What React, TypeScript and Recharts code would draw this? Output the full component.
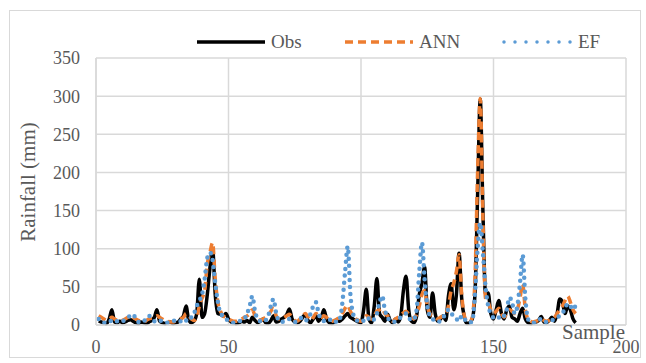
import { CartesianGrid, Legend, Line, LineChart, XAxis, YAxis } from "recharts";

const xTicks = [0, 50, 100, 150, 200];
const yTicks = [0, 50, 100, 150, 200, 250, 300, 350];

// observed rainfall, samples 1..181
const obs = [
  5, 4, 3, 2, 8, 20, 4, 3, 5, 3,
  4, 6, 7, 5, 3, 2, 4, 3, 2, 4,
  6, 10, 20, 5, 3, 2, 3, 4, 2, 3,
  4, 8, 12, 25, 6, 3, 5, 15, 60, 10,
  15, 40, 75, 100, 40, 15, 14, 12, 15, 8,
  4, 3, 2, 3, 5, 4, 6, 3, 10, 6,
  3, 5, 8, 3, 2, 6, 12, 4, 5, 8,
  10, 14, 21, 8, 4, 3, 5, 10, 14, 6,
  3, 8, 12, 5, 10, 20, 8, 3, 2, 4,
  6, 5, 8, 12, 15, 10, 8, 6, 4, 3,
  20, 47, 8, 3, 25, 61, 15, 10, 5, 14,
  6, 3, 8, 4, 12, 45, 64, 20, 5, 3,
  12, 40, 55, 76, 20, 10, 42, 15, 5, 8,
  12, 6, 38, 54, 20, 40, 94, 35, 10, 2,
  3, 8, 40, 170, 296, 150, 40, 42, 15, 8,
  20, 32, 15, 8, 20, 25, 10, 8, 5, 15,
  22, 8, 3, 2, 3, 4, 6, 11, 4, 3,
  6, 10, 5, 15, 34, 30, 15, 25, 20, 8,
  3,
];

const ann = [
  12, 10, 8, 6, 8, 10, 8, 6, 5, 6,
  8, 10, 12, 10, 8, 6, 5, 4, 6, 8,
  9, 10, 12, 10, 8, 6, 5, 4, 4, 5,
  6, 8, 10, 15, 12, 8, 6, 10, 25, 35,
  45, 80, 95, 108, 60, 30, 18, 12, 10, 8,
  6, 5, 5, 6, 8, 10, 12, 15, 20, 12,
  8, 6, 8, 10, 12, 18, 22, 12, 8, 8,
  10, 12, 14, 10, 6, 5, 8, 12, 15, 10,
  6, 10, 15, 12, 10, 12, 10, 6, 5, 6,
  8, 10, 15, 22, 26, 18, 12, 8, 6, 5,
  8, 12, 10, 8, 12, 18, 20, 22, 15, 12,
  8, 5, 8, 10, 12, 16, 18, 14, 10, 8,
  14, 25, 40, 45, 25, 15, 12, 10, 8, 10,
  12, 15, 25, 45, 55, 70, 92, 40, 12, 5,
  4, 10, 60, 200, 297, 140, 35, 30, 20, 15,
  18, 22, 15, 10, 15, 20, 18, 15, 20, 35,
  54, 20, 8, 5, 4, 5, 6, 8, 6, 5,
  6, 8, 10, 15, 20, 25, 32, 38, 30, 20,
  15,
];

const ef = [
  8, 5, 3, 5, 6, 4, 3, 5, 6, 5,
  8, 10, 12, 14, 8, 4, 3, 5, 8, 12,
  8, 5, 4, 6, 5, 3, 3, 4, 5, 6,
  4, 5, 8, 6, 5, 10, 15, 25, 32, 40,
  60, 88, 95, 85, 55, 30, 15, 12, 8, 6,
  4, 3, 4, 5, 6, 8, 15, 25, 38, 18,
  8, 5, 4, 6, 12, 25, 34, 15, 6, 4,
  5, 6, 8, 6, 4, 5, 8, 10, 6, 8,
  15, 25, 30, 15, 8, 5, 4, 6, 8, 5,
  4, 8, 30, 70, 103, 40, 15, 8, 5, 4,
  6, 10, 8, 5, 8, 15, 30, 38, 20, 10,
  6, 4, 5, 8, 10, 12, 15, 10, 6, 8,
  20, 70, 108, 60, 25, 12, 8, 5, 4, 6,
  10, 15, 20, 15, 12, 8, 5, 12, 8, 4,
  3, 6, 40, 100, 134, 95, 50, 25, 15, 10,
  12, 10, 8, 12, 20, 36, 30, 15, 25, 55,
  92, 35, 8, 4, 3, 4, 6, 8, 5, 4,
  5, 6, 8, 10, 12, 15, 22, 28, 25, 20,
  26,
];

const data = obs.map((v, i) => ({ sample: i + 1, obs: v, ann: ann[i], ef: ef[i] }));

const font = "'Liberation Serif', 'Times New Roman', serif";
const grey = "#595959";

function LegendBox() {
  const items = [
    { name: "Obs", x: 195, stroke: "#000000", dash: undefined, cap: "butt" },
    { name: "ANN", x: 343, stroke: "#ed7d31", dash: "8 5", cap: "butt" },
    { name: "EF", x: 502, stroke: "#5b9bd5", dash: "0 11", cap: "round" },
  ];
  return (
    <svg width={646} height={30} style={{ display: "block" }}>
      {items.map((it) => (
        <g key={it.name}>
          <line x1={it.x + 2} x2={it.x + 70} y1={15} y2={15} stroke={it.stroke} strokeWidth={3.5}
            strokeDasharray={it.dash} strokeLinecap={it.cap as "butt" | "round"} />
          <text x={it.x + 76} y={21} fontFamily={font} fontSize={19} fill={grey}>{it.name}</text>
        </g>
      ))}
    </svg>
  );
}

export default function App() {
  return (
    <div style={{ position: "absolute", left: 0, top: 0, width: 646, height: 363, background: "#fff" }}>
      <div style={{ position: "absolute", left: 9, top: 10, width: 630, height: 346, border: "1px solid #d9d9d9" }} />
      <LineChart width={646} height={363} data={data} margin={{ top: 28, right: 20, bottom: 0, left: 0 }}>
        <CartesianGrid stroke="#d9d9d9" strokeWidth={1.5} />
        <XAxis type="number" dataKey="sample" domain={[0, 200]} ticks={xTicks} height={38}
          tickLine={false} tickSize={0} tickMargin={15} axisLine={{ stroke: "#d9d9d9", strokeWidth: 1.5 }}
          tick={{ fontFamily: font, fontSize: 18, fill: grey }} />
        <YAxis type="number" domain={[0, 350]} ticks={yTicks} width={96} interval={0}
          tickLine={false} tickSize={0} tickMargin={16} axisLine={{ stroke: "#d9d9d9", strokeWidth: 1.5 }}
          tick={{ fontFamily: font, fontSize: 18, fill: grey }}
          label={() => (
            <text x={28} y={182} transform="rotate(-90 28 182)" textAnchor="middle" dominantBaseline="central"
              fontFamily={font} fontSize={21} fill={grey}>Rainfall (mm)</text>
          )} />
        <Legend verticalAlign="top" content={() => <LegendBox />}
          wrapperStyle={{ left: 0, top: 27, width: 646 }} />
        <Line type="monotone" dataKey="obs" name="Obs" stroke="#000000" strokeWidth={3.5} dot={false} isAnimationActive={false} />
        <Line type="monotone" dataKey="ann" name="ANN" stroke="#ed7d31" strokeWidth={3.5} strokeDasharray="8 5" dot={false} isAnimationActive={false} />
        <Line type="monotone" dataKey="ef" name="EF" stroke="#5b9bd5" strokeWidth={4.5} strokeDasharray="0 7" strokeLinecap="round" dot={false} isAnimationActive={false} />
      </LineChart>
      <div style={{ position: "absolute", left: 562, top: 321, fontFamily: font, fontSize: 21, color: grey, lineHeight: "22px" }}>Sample</div>
    </div>
  );
}
